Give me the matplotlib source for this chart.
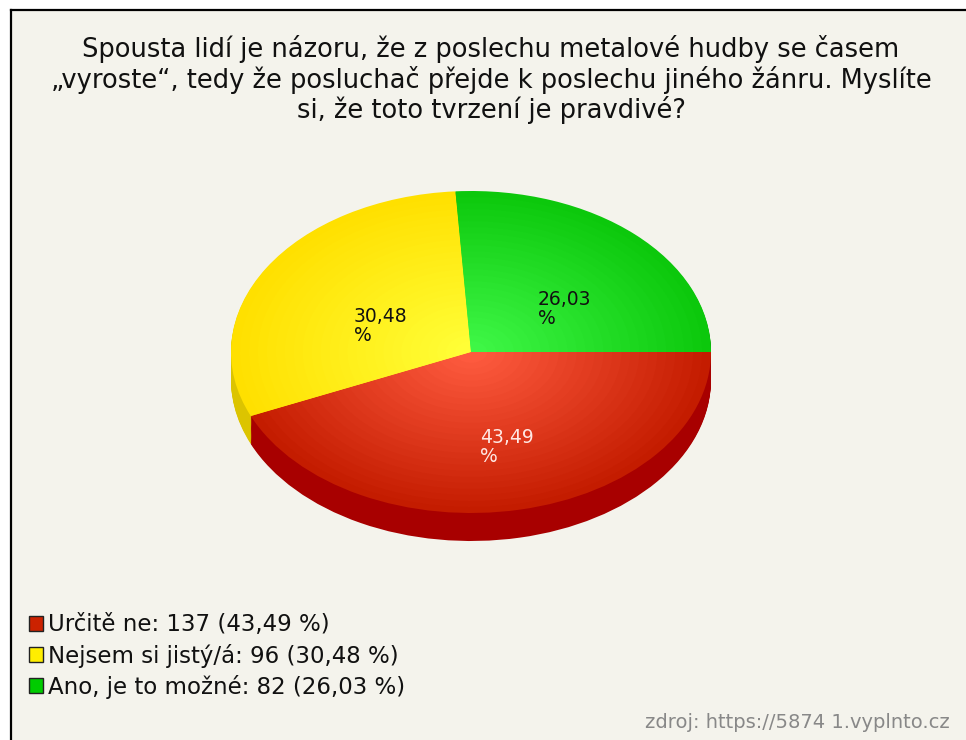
import numpy as np
import matplotlib
matplotlib.use("Agg")
import matplotlib.pyplot as plt
import matplotlib.transforms as mtransforms
from matplotlib.patches import Rectangle
from matplotlib.colors import to_rgb

# data
categories = ["Určitě ne", "Nejsem si jistý/á", "Ano, je to možné"]
counts = [137, 96, 82]

title = ("Spousta lidí je názoru, že z poslechu metalové hudby se časem\n"
         "„vyroste“, tedy že posluchač přejde k poslechu jiného žánru. Myslíte\n"
         "si, že toto tvrzení je pravdivé?")
source = "zdroj: https://5874 1.vyplnto.cz"

# colours
rim_colors = ["#c41c00", "#ffe000", "#0cc80c"]
core_colors = ["#ff5c40", "#ffff38", "#40f848"]
side_colors = ["#a80000", "#dcc400", "#089008"]
legend_colors = ["#cc2200", "#ffee00", "#00cc00"]
label_colors = ["#ffe8e4", "#111111", "#111111"]

plt.rcParams['font.family'] = ['DejaVu Sans']

W, H = 966, 740
fig = plt.figure(figsize=(W / 100, H / 100), dpi=100, facecolor="white")

# panel background with the black top/left frame
fig.patches.append(Rectangle((11 / W, 0), 1, (H - 10) / H, transform=fig.transFigure,
                             facecolor="#f4f3ec", edgecolor="none", zorder=-5))
fig.add_artist(plt.Line2D([11 / W, 1], [(H - 10) / H] * 2, color="black", lw=1.6))
fig.add_artist(plt.Line2D([11 / W] * 2, [0, (H - 10) / H], color="black", lw=1.6))

# pie axes: unit circle stretched into the ellipse
cx, cy, rx, ry = 471, 352, 240, 161
ax = fig.add_axes([0, 0, 1, 1], zorder=1)
ax.set_facecolor("none")

def pct_label(p):
    return f"{p:.2f}".replace(".", ",") + "\n%"

# side wall of the 3D pie
depth = 28 / ry
n_side = 30
for k in range(n_side, 0, -1):
    ax.pie(counts, colors=side_colors, startangle=0, counterclock=False,
           center=(0, -depth * k / n_side), radius=1,
           wedgeprops=dict(linewidth=0, antialiased=True))

# top face with a radial gradient
n_grad = 26
autotexts = None
for i in range(n_grad):
    t = i / n_grad
    r = 1 - t * 0.97
    cols = [tuple(np.array(to_rgb(a)) * (1 - t) + np.array(to_rgb(b)) * t)
            for a, b in zip(rim_colors, core_colors)]
    if i == 0:
        _, _, autotexts = ax.pie(counts, colors=cols, startangle=0, counterclock=False,
                                 radius=r, autopct=pct_label, pctdistance=0.5,
                                 wedgeprops=dict(linewidth=0))
    else:
        ax.pie(counts, colors=cols, startangle=0, counterclock=False, radius=r,
               wedgeprops=dict(linewidth=0))

ax.set_aspect("auto")
ax.set_xlim(-cx / rx, (W - cx) / rx)
ax.set_ylim(-(H - cy) / ry, cy / ry)
ax.axis("off")

shift = mtransforms.offset_copy(ax.transData, fig=fig, x=-15, y=3, units="dots")
for txt, c in zip(autotexts, label_colors):
    txt.set_color(c)
    txt.set_fontsize(13.5)
    txt.set_ha("left")
    txt.set_va("top")
    txt.set_multialignment("left")
    txt.set_linespacing(1.0)
    txt.set_zorder(10)
    txt.set_transform(shift)

fig.text(491 / W, 1 - 35 / H, title, ha="center", va="top", fontsize=18.5,
         linespacing=1.12, color="#111111")

total = sum(counts)
handles = [Rectangle((0, 0), 1, 1, facecolor=c, edgecolor="#222222", lw=1.0)
           for c in legend_colors]
labels = [f"{cat}: {n} ({100 * n / total:.2f} %)".replace(".", ",")
          for cat, n in zip(categories, counts)]
fig.legend(handles, labels, loc="upper left", bbox_to_anchor=(20 / W, 1 - 604 / H),
           frameon=False, fontsize=16.5, handlelength=0.62, handleheight=0.62,
           handletextpad=0.22, labelspacing=0.32, borderaxespad=0, labelcolor="#111111")

fig.text(950 / W, 1 - 722 / H, source, ha="right", va="center", fontsize=14,
         color="#888888")

fig.savefig("out.png", dpi=100, facecolor=fig.get_facecolor())
